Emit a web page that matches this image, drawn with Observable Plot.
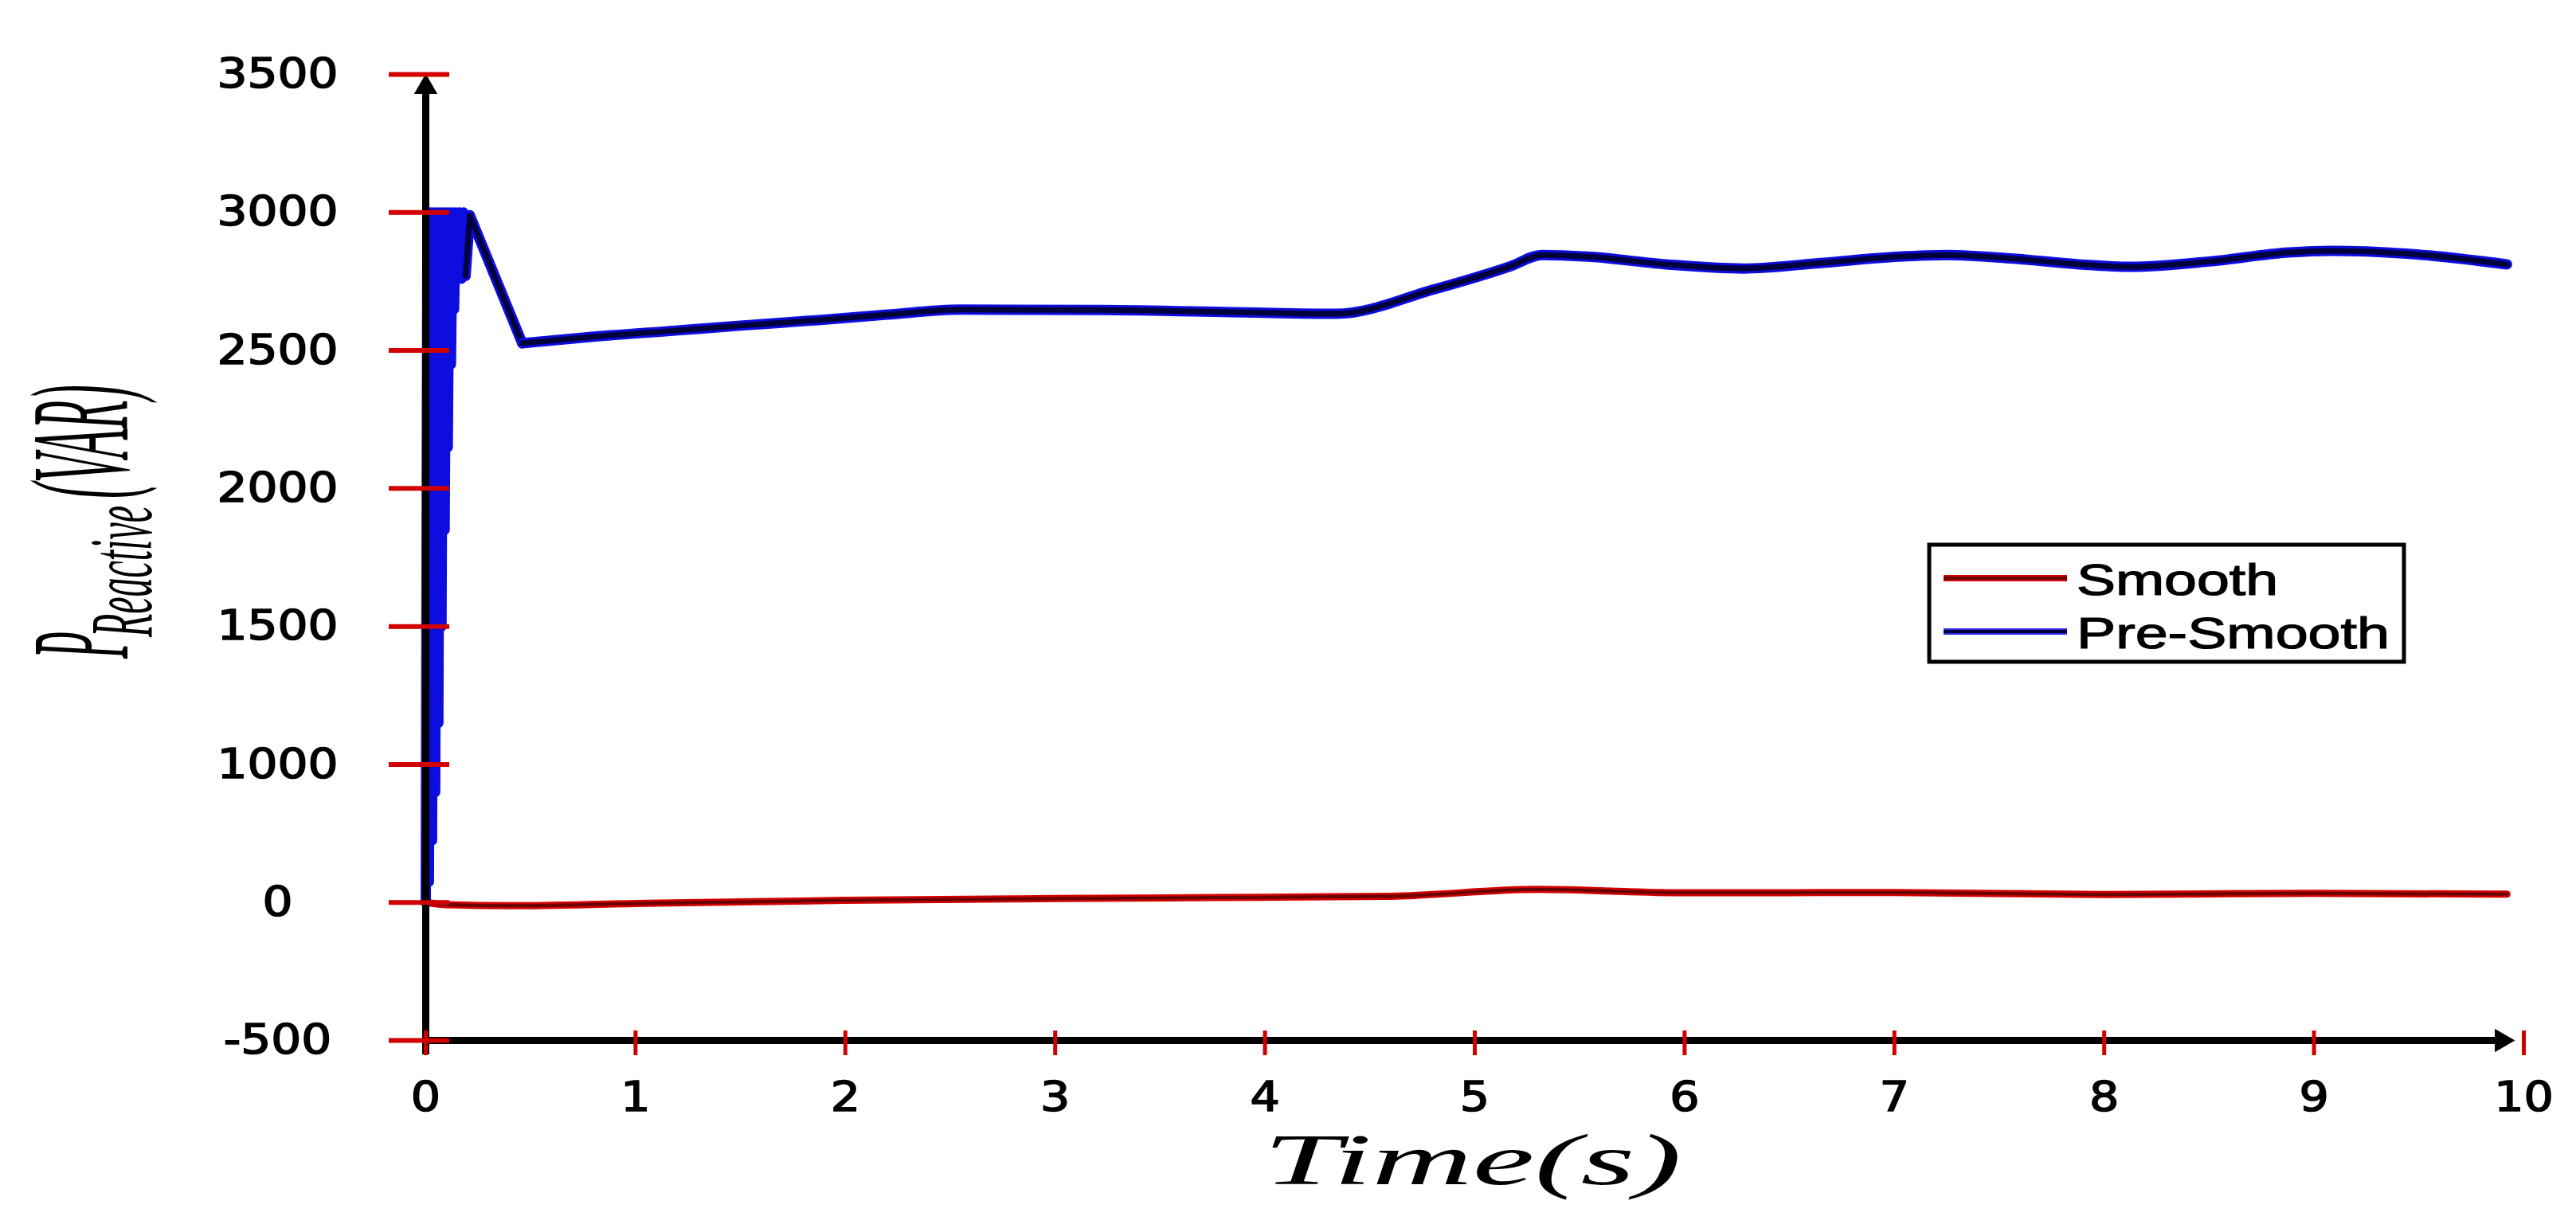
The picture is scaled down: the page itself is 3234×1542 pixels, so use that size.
<!DOCTYPE html>
<html>
<head>
<meta charset="utf-8">
<script src="https://cdn.jsdelivr.net/npm/d3@7"></script>
<script src="https://cdn.jsdelivr.net/npm/@observablehq/plot@0.6"></script>
<style>
html, body { margin: 0; padding: 0; background: #ffffff; }
#chart { position: relative; width: 3234px; height: 1542px; overflow: hidden; }
</style>
</head>
<body>
<div id="chart"></div>
<script>
// ---------------- data ----------------
const yTickLabels = [-500, 0, 1000, 1500, 2000, 2500, 3000, 3500]; // evenly spaced labels as printed
const xTicks = [0, 1, 2, 3, 4, 5, 6, 7, 8, 9, 10];
const xDomain = [0, 10];
const seriesNames = ["Smooth", "Pre-Smooth"];
const xTitle = "Time(s)";
const yTitleMain = "P";
const yTitleSub = "Reactive";
const yTitleUnit = "(VAR)";

// start-up transient of the Pre-Smooth curve (rapid oscillation, drawn as a dense band)
const timeTransient = [0, 0.008, 0.015, 0.023, 0.03, 0.038, 0.045, 0.053, 0.06, 0.068, 0.075, 0.083, 0.09, 0.098, 0.105, 0.113, 0.12, 0.128, 0.135, 0.143, 0.15, 0.16, 0.17, 0.18, 0.19, 0.21, 0.46];
const valueTransient = [0, 3000, 150, 3000, 450, 3000, 800, 3000, 1150, 3000, 1500, 3000, 1850, 3000, 2150, 3000, 2450, 3000, 2650, 3000, 2760, 3000, 2760, 3000, 2770, 2990, 2526];
// settled part of the Pre-Smooth curve
const timePreSmooth = [0.46, 0.8, 1.19, 1.5, 1.87, 2.2, 2.55, 3.22, 3.9, 4.34, 4.8, 5.17, 5.32, 5.54, 5.91, 6.28, 6.65, 7.02, 7.25, 7.58, 7.88, 8.13, 8.51, 8.88, 9.08, 9.44, 9.92];
const valuePreSmooth = [2526, 2550, 2572, 2590, 2610, 2630, 2648, 2647, 2638, 2633, 2720, 2805, 2846, 2840, 2812, 2797, 2817, 2840, 2846, 2832, 2812, 2803, 2823, 2855, 2861, 2851, 2812];

const timeSmooth = [0, 0.1, 0.4, 1, 2, 3, 4, 4.6, 5.3, 6, 7, 8, 9, 9.92];
const valueSmooth = [0, -8, -12, -4, 15, 28, 38, 45, 95, 70, 72, 58, 66, 60];

// ---------------- build tables ----------------
// the printed y labels are evenly spaced; map values onto that label ladder
const yIndex = d3.scaleLinear().domain(yTickLabels).range(d3.range(yTickLabels.length));
const transient = timeTransient.map((t, i) => ({t, v: valueTransient[i], yi: yIndex(valueTransient[i])}));
const pre = timePreSmooth.map((t, i) => ({t, v: valuePreSmooth[i], yi: yIndex(valuePreSmooth[i])}));
const smooth = timeSmooth.map((t, i) => ({t, v: valueSmooth[i], yi: yIndex(valueSmooth[i])}));
const yIdx = d3.range(yTickLabels.length);
const yTop = yIdx[yIdx.length - 1];

const tickRed = "#d10000";
const blueEdge = "#0d0de0";
const blueCore = "#00003c";

const plot = Plot.plot({
  width: 3234,
  height: 1542,
  marginLeft: 534,
  marginRight: 66,
  marginTop: 93,
  marginBottom: 236,
  style: {background: "#ffffff", fontFamily: "'DejaVu Sans', sans-serif", color: "#000"},
  x: {domain: xDomain, label: null},
  y: {domain: [yIdx[0], yTop], label: null},
  marks: [
    // data lines
    Plot.line(smooth, {x: "t", y: "yi", stroke: "#d40000", strokeWidth: 9, curve: "monotone-x"}),
    Plot.line(smooth, {x: "t", y: "yi", stroke: "#6a0000", strokeWidth: 4, curve: "monotone-x"}),
    Plot.line(transient, {x: "t", y: "yi", stroke: blueEdge, strokeWidth: 13}),
    Plot.line(transient, {filter: d => d.t >= 0.19, x: "t", y: "yi", stroke: blueCore, strokeWidth: 7}),
    Plot.line(pre, {x: "t", y: "yi", stroke: blueEdge, strokeWidth: 13, curve: "monotone-x"}),
    Plot.line(pre, {x: "t", y: "yi", stroke: blueCore, strokeWidth: 7, curve: "monotone-x"}),
    // axis lines
    Plot.ruleY([yIdx[0]], {x1: xDomain[0], x2: xDomain[1], stroke: "#000", strokeWidth: 9, insetRight: 18}),
    Plot.ruleX([xDomain[0]], {y1: yIdx[0], y2: yTop, stroke: "#000", strokeWidth: 9, insetBottom: -24, insetTop: 18}),
    // arrow heads
    Plot.dot([{x: xDomain[1], y: yIdx[0]}], {x: "x", y: "y", symbol: "triangle2", r: 14, fill: "#000", rotate: 90, dx: -28}),
    Plot.dot([{x: xDomain[0], y: yTop}], {x: "x", y: "y", symbol: "triangle2", r: 14, fill: "#000", dy: 16}),
    // red tick marks
    Plot.axisY(yIdx, {tickSize: 76, dx: 30, stroke: tickRed, strokeWidth: 6, tickFormat: () => "", label: null}),
    Plot.axisX(xTicks, {tickSize: 31, dy: -12, stroke: tickRed, strokeWidth: 5, tickFormat: () => "", label: null}),
    // tick labels
    Plot.axisY(yIdx, {tickSize: 0, tickPadding: 186, textAnchor: "middle", fontSize: 52, tickFormat: i => String(yTickLabels[i]), label: null}),
    Plot.axisX(xTicks, {tickSize: 0, tickPadding: 52, fontSize: 51, tickFormat: d => String(d), label: null})
  ]
});

document.getElementById("chart").appendChild(plot);

const svg = d3.select(plot);

// the reference text is horizontally stretched and heavy; mimic with textLength and a thin outline
svg.selectAll('g[aria-label="y-axis tick label"] text, g[aria-label="x-axis tick label"] text').each(function () {
  const s = this.textContent;
  if (!s) return;
  const L = this.getComputedTextLength();
  this.setAttribute("textLength", (L * 1.15).toFixed(1));
  this.setAttribute("lengthAdjust", "spacingAndGlyphs");
  this.setAttribute("stroke", "#000");
  this.setAttribute("stroke-width", "1.6");
});

// y-axis title  P_Reactive(VAR)  (tall, condensed italic glyphs)
const yt = svg.append("g").attr("font-family", "'Liberation Serif', serif").attr("font-style", "italic")
  .attr("fill", "#000").attr("text-anchor", "start");
yt.append("text").attr("transform", "translate(160,827) rotate(-90)").attr("font-size", 176)
  .attr("textLength", 34).attr("lengthAdjust", "spacingAndGlyphs").text(yTitleMain);
yt.append("text").attr("transform", "translate(190,800) rotate(-90)").attr("font-size", 112)
  .attr("textLength", 165).attr("lengthAdjust", "spacingAndGlyphs").text(yTitleSub);
yt.append("text").attr("transform", "translate(160,626) rotate(-90)").attr("font-size", 176)
  .attr("textLength", 143).attr("lengthAdjust", "spacingAndGlyphs").text(yTitleUnit);

// x-axis title
svg.append("text").attr("x", 1586).attr("y", 1487).attr("text-anchor", "start")
  .attr("font-family", "'Liberation Serif', serif").attr("font-style", "italic").attr("font-size", 90)
  .attr("textLength", 525).attr("lengthAdjust", "spacingAndGlyphs").attr("fill", "#000").text(xTitle);

// legend
const lg = svg.append("g").attr("font-family", "'Liberation Sans', Arial, sans-serif").attr("font-size", 55)
  .attr("text-anchor", "start");
lg.append("rect").attr("x", 2422).attr("y", 684).attr("width", 596).attr("height", 147)
  .attr("fill", "#fff").attr("stroke", "#000").attr("stroke-width", 5);
const legendRows = [
  {name: seriesNames[0], y: 726, outer: "#d40000", inner: "#6a0000", len: 253},
  {name: seriesNames[1], y: 793, outer: "#2a2ae0", inner: "#00003c", len: 393}
];
legendRows.forEach(r => {
  lg.append("line").attr("x1", 2440).attr("x2", 2595).attr("y1", r.y).attr("y2", r.y)
    .attr("stroke", r.outer).attr("stroke-width", 8);
  lg.append("line").attr("x1", 2440).attr("x2", 2595).attr("y1", r.y).attr("y2", r.y)
    .attr("stroke", r.inner).attr("stroke-width", 4);
  lg.append("text").attr("x", 2607).attr("y", r.y + 21).attr("fill", "#000")
    .attr("stroke", "#000").attr("stroke-width", 1.2)
    .attr("textLength", r.len).attr("lengthAdjust", "spacingAndGlyphs").text(r.name);
});
</script>
</body>
</html>
